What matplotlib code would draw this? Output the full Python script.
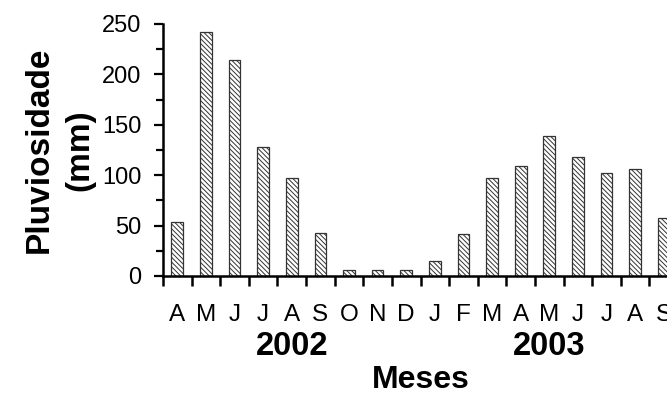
import matplotlib

matplotlib.use("Agg", force=True)
import matplotlib.pyplot as plt
import numpy as np

# monthly rainfall, Apr 2002 -> Sep 2003
months = ["A", "M", "J", "J", "A", "S", "O", "N", "D",
          "J", "F", "M", "A", "M", "J", "J", "A", "S"]
rain_mm = [54, 242, 214, 128, 97, 43, 6, 6, 6,
           15, 42, 97, 109, 139, 118, 102, 106, 58]
years = ["2002", "2003"]
year_month_index = [4, 13]  # month under which each year label sits

plt.rcParams["font.family"] = ["Liberation Sans", "DejaVu Sans"]
plt.rcParams["hatch.linewidth"] = 0.7

fig = plt.figure(figsize=(6.67, 3.97), dpi=100)
# axes runs past the right edge of the figure, like the cropped original
ax = fig.add_axes([0.2444, 0.3048, 0.7721, 0.6348])

x = np.arange(len(months)) + 0.5
ax.bar(x, rain_mm, width=0.41, color="white", edgecolor="#333333",
       linewidth=0.9, hatch="\\\\\\\\\\\\\\")

ax.set_xlim(0, len(months))
ax.set_ylim(0, 250)

for side in ("top", "right"):
    ax.spines[side].set_visible(False)
for side in ("left", "bottom"):
    ax.spines[side].set_linewidth(1.8)

ax.set_yticks(np.arange(0, 251, 50))
ax.set_yticks(np.arange(0, 251, 25), minor=True)
ax.tick_params(axis="y", which="major", direction="out", length=6.5, width=1.6,
               labelsize=17, pad=9)
ax.tick_params(axis="y", which="minor", direction="out", length=5, width=1.6)

ax.set_xticks(np.arange(0, len(months) + 1))
ax.set_xticks(x, minor=True)
ax.set_xticklabels([], minor=False)
ax.set_xticklabels(months, minor=True)
ax.tick_params(axis="x", which="major", direction="out", length=7, width=1.8)
ax.tick_params(axis="x", which="minor", length=0, labelsize=17.5, pad=20.5)

xt = ax.get_xaxis_transform()
for label, idx in zip(years, year_month_index):
    ax.text(x[idx], -0.278, label, transform=xt, ha="center", va="center",
            fontsize=23.5, fontweight="bold")

ax.text(0.5, -0.412, "Meses", transform=ax.transAxes, ha="center", va="center",
        fontsize=23, fontweight="bold")
ax.text(-0.2, 0.5, "Pluviosidade\n(mm)", transform=ax.transAxes, ha="center",
        va="center", rotation=90, fontsize=24, fontweight="bold",
        linespacing=1.4, multialignment="center")

fig.savefig("out.png", dpi=100)
